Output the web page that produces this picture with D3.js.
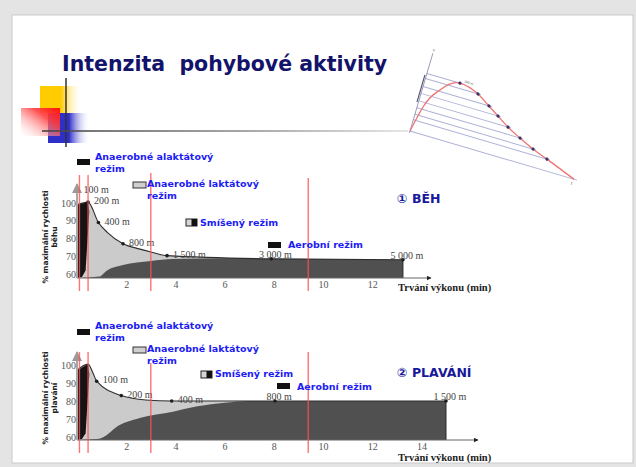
<!DOCTYPE html>
<html>
<head>
<meta charset="utf-8">
<script src="https://cdn.jsdelivr.net/npm/d3@7"></script>
<style>
  html, body { margin: 0; padding: 0; background: #fff; }
  svg { display: block; }
</style>
</head>
<body>
<div id="chart"></div>
<script>
(function () {
"use strict";

////////////////////////////////////////////////////////////////////////////////
// Data
////////////////////////////////////////////////////////////////////////////////

var title = "Intenzita  pohybové aktivity";

var regimeNames = [
  ["Anaerobné alaktátový", "režim"],
  ["Anaerobné laktátový", "režim"],
  ["Smíšený režim"],
  ["Aerobní režim"]
];

// regime borders, minutes
var regimeBounds = [0.1, 0.45, 3, 9.4];

var yTicks = [60, 70, 80, 90, 100];
var runXTicks = [2, 4, 6, 8, 10, 12];
var swimXTicks = [2, 4, 6, 8, 10, 12, 14];

// running: [min, % of max speed]
var runCurve = [[0, 99], [0.45, 100.5], [0.87, 89], [1.22, 83.6], [1.87, 77], [2.56, 74],
                [3, 72.4], [3.66, 70.3], [7.9, 68.5], [13.25, 68]];
var runAerobic = [[0, 57.7], [0.9, 58.5], [1.22, 62], [1.87, 65], [3, 67.3], [3.9, 68.4],
                  [6, 68.8], [7.9, 68.5], [13.25, 68]];
var runAlactic = [[0, 57.7], [0, 99], [0.45, 100.5], [0.5, 95], [0.35, 62], [0.2, 58.3]];
var runMarks = [
  {label: "100 m", t: 0.1, v: 100},
  {label: "200 m", t: 0.45, v: 100.5},
  {label: "400 m", t: 0.87, v: 89},
  {label: "800 m", t: 1.87, v: 77},
  {label: "1 500 m", t: 3.66, v: 70.3},
  {label: "3 000 m", t: 7.9, v: 68.5},
  {label: "5 000 m", t: 13.25, v: 68}
];

// swimming
var swimCurve = [[0, 97], [0.45, 100.5], [0.65, 95.5], [0.8, 91], [1.8, 83], [2.8, 80.5],
                 [3.85, 80], [8.05, 80], [15, 80]];
var swimAerobic = [[0, 58.3], [0.8, 58.8], [1.2, 61], [1.55, 65], [2.55, 70.5], [3.9, 74],
                   [4.9, 77], [6, 79], [7, 80], [15, 80]];
var swimAlactic = [[0, 58.3], [0, 97], [0.45, 100.5], [0.5, 95], [0.35, 62], [0.2, 58.8]];
var swimMarks = [
  {label: "100 m", t: 0.8, v: 91},
  {label: "200 m", t: 1.8, v: 83},
  {label: "400 m", t: 3.85, v: 80},
  {label: "800 m", t: 8.05, v: 80},
  {label: "1 500 m", t: 15, v: 80}
];

// small tilted sketch, top right: [along base, height]
var sketchCurve = [[0, 0], [5.7, 26.7], [17.2, 47.8], [34.4, 60], [54.8, 54.7], [68.7, 46.3],
                   [80.2, 39.2], [92.9, 31.4], [107.5, 24.3], [123.1, 17.4], [139.3, 11.7], [171, 0]];
var sketchDots = [[34.4, 60], [54.8, 54.7], [68.7, 46.3], [80.2, 39.2], [92.9, 31.4],
                  [107.5, 24.3], [123.1, 17.4], [139.3, 11.7]];

////////////////////////////////////////////////////////////////////////////////
// Slide
////////////////////////////////////////////////////////////////////////////////

var W = 636, H = 467;

var svg = d3.select("#chart").append("svg")
  .attr("width", W)
  .attr("height", H)
  .attr("viewBox", "0 0 " + W + " " + H);

var defs = svg.append("defs");

function linGrad(id, x1, y1, x2, y2, stops) {
  var g = defs.append("linearGradient").attr("id", id)
    .attr("x1", x1).attr("y1", y1).attr("x2", x2).attr("y2", y2);
  stops.forEach(function(s) {
    g.append("stop").attr("offset", s[0]).attr("stop-color", s[1]).attr("stop-opacity", s[2]);
  });
}

linGrad("g-yellow", 0, 0, 1, 0, [[0, "#ffcc00", 1], [0.5, "#ffcc00", 1], [1, "#ffffff", 0]]);
linGrad("g-blue", 0, 0, 1, 0, [[0, "#2e2ec8", 1], [0.5, "#2e2ec8", 1], [1, "#ffffff", 0]]);
linGrad("g-red", 1, 0, 0, 1, [[0, "#ff1010", 1], [0.35, "#ff4040", 0.9], [1, "#ffffff", 0.2]]);
linGrad("g-rule", 0, 0, 1, 0, [[0, "#444", 1], [0.6, "#999", 1], [1, "#e0e0e0", 1]]);

var markerDefs = [["ax-arrow-dark", "#222"], ["ax-arrow-gray", "#9a9a9a"]];
markerDefs.forEach(function(m) {
  defs.append("marker")
      .attr("id", m[0])
      .attr("viewBox", "0 -5 10 10")
      .attr("refX", 9)
      .attr("refY", 0)
      .attr("markerWidth", 5)
      .attr("markerHeight", 5)
      .attr("orient", "auto")
    .append("path")
      .attr("d", "M0,-5L10,0L0,5")
      .style("fill", m[1]);
});

svg.append("rect").attr("width", W).attr("height", H).style("fill", "#e4e4e4");
svg.append("rect")
  .attr("x", 12).attr("y", 15).attr("width", 621).attr("height", 448)
  .style("fill", "#fff")
  .style("stroke", "#c9c9c9");

// decoration squares
svg.append("rect").attr("x", 40).attr("y", 86).attr("width", 42).attr("height", 27).style("fill", "url(#g-yellow)");
svg.append("rect").attr("x", 48).attr("y", 113).attr("width", 42).attr("height", 30).style("fill", "url(#g-blue)");
svg.append("rect").attr("x", 21).attr("y", 108).attr("width", 39).attr("height", 28).style("fill", "url(#g-red)");
svg.append("line").attr("x1", 66).attr("x2", 66).attr("y1", 78).attr("y2", 147)
  .style("stroke", "#333").style("stroke-width", 1.5);
svg.append("rect").attr("x", 42).attr("y", 130.2).attr("width", 366).attr("height", 1.6)
  .style("fill", "url(#g-rule)");

svg.append("text")
  .attr("x", 62)
  .attr("y", 71)
  .style("font-family", "'DejaVu Sans', sans-serif")
  .style("font-weight", "bold")
  .style("font-size", "20.5px")
  .style("fill", "#13136b")
  .attr("xml:space", "preserve")
  .text(title);

////////////////////////////////////////////////////////////////////////////////
// Tilted sketch (top right)
////////////////////////////////////////////////////////////////////////////////

var su = d3.scaleLinear().domain([0, 171]).range([0, 171]),
    sh = d3.scaleLinear().domain([0, 81]).range([0, -81]);

var sketch = svg.append("g")
  .attr("transform", "translate(410,131) rotate(16.4)");

sketch.selectAll(".sk-line")
    .data([[0, 0]].concat(sketchDots).concat([[171, 0]]))
  .enter().append("line")
    .attr("x1", su(0))
    .attr("x2", function(d) { return su(d[0]) + 3; })
    .attr("y1", function(d) { return sh(d[1]); })
    .attr("y2", function(d) { return sh(d[1]); })
    .style("stroke", "#aeb2d6")
    .style("stroke-width", 1);

sketch.append("line")
  .attr("x1", 0).attr("x2", 0).attr("y1", sh(-2)).attr("y2", sh(81))
  .style("stroke", "#8c8caa").style("stroke-width", 0.8);
sketch.append("line")
  .attr("x1", -1.5).attr("x2", -1.5).attr("y1", sh(30)).attr("y2", sh(58))
  .style("stroke", "#555577").style("stroke-width", 1.2);

sketch.append("path")
  .datum(sketchCurve)
  .attr("d", d3.line()
    .x(function(d) { return su(d[0]); })
    .y(function(d) { return sh(d[1]); })
    .curve(d3.curveMonotoneX))
  .style("fill", "none")
  .style("stroke", "#f07272")
  .style("stroke-width", 1.3);

sketch.selectAll(".sk-dot")
    .data(sketchDots)
  .enter().append("circle")
    .attr("cx", function(d) { return su(d[0]); })
    .attr("cy", function(d) { return sh(d[1]); })
    .attr("r", 1.6)
    .style("fill", "#34346a");

sketch.append("text")
  .attr("x", su(38)).attr("y", sh(62))
  .style("font-family", "'DejaVu Sans', sans-serif").style("font-size", "3px").style("fill", "#555")
  .text("100 m");
sketch.append("text")
  .attr("x", su(169)).attr("y", sh(-6))
  .style("font-family", "'DejaVu Sans', sans-serif").style("font-size", "4px").style("fill", "#666")
  .text("t");
sketch.append("text")
  .attr("x", su(-1)).attr("y", sh(83))
  .style("font-family", "'DejaVu Sans', sans-serif").style("font-size", "4px").style("fill", "#666")
  .text("v");

////////////////////////////////////////////////////////////////////////////////
// Panels
////////////////////////////////////////////////////////////////////////////////

var serif = "'Liberation Serif', 'DejaVu Serif', serif";
var legendFont = "'DejaVu Sans', sans-serif";

function drawPanel(o) {
  var x = d3.scaleLinear().domain([0, 14]).range([77, 77 + 14 * 24.6]);
  var y = d3.scaleLinear().domain([o.base, 100]).range([o.y0, o.y0 - 75]);

  var g = svg.append("g");

  var area = d3.area()
    .x(function(d) { return x(d[0]); })
    .y0(y(o.base))
    .y1(function(d) { return y(d[1]); })
    .curve(d3.curveMonotoneX);

  var line = d3.line()
    .x(function(d) { return x(d[0]); })
    .y(function(d) { return y(d[1]); })
    .curve(d3.curveMonotoneX);

  // lactic (light) under the whole curve
  g.append("path").datum(o.curve).attr("d", area).style("fill", "#cbcbcb");
  // aerobic
  g.append("path").datum(o.aerobic).attr("d", area).style("fill", "#505050");
  // alactic
  g.append("path").datum(o.alactic)
    .attr("d", d3.line().x(function(d) { return x(d[0]); }).y(function(d) { return y(d[1]); }))
    .style("fill", "#141414");
  // right edge
  var last = o.curve[o.curve.length - 1];
  g.append("line")
    .attr("x1", x(last[0])).attr("x2", x(last[0]))
    .attr("y1", y(last[1])).attr("y2", y(o.base))
    .style("stroke", "#2a2a2a").style("stroke-width", 1);
  // speed curve
  g.append("path").datum(o.curve).attr("d", line)
    .style("fill", "none").style("stroke", "#2e2e2e").style("stroke-width", 1.1);

  // x axis
  g.append("line")
    .attr("x1", x(0)).attr("x2", o.arrowEnd)
    .attr("y1", y(o.base)).attr("y2", y(o.base))
    .attr("marker-end", "url(#ax-arrow-dark)")
    .style("stroke", "#666").style("stroke-width", 1);

  var xAxis = g.append("g")
    .attr("transform", "translate(0," + y(o.base) + ")")
    .call(d3.axisBottom(x).tickValues(o.xTicks).tickSize(0).tickPadding(o.tickPad));
  xAxis.select(".domain").remove();
  xAxis.selectAll("text")
    .style("font-family", serif).style("font-size", "10px").style("fill", "#555");

  // y axis
  g.append("line")
    .attr("x1", x(0)).attr("x2", x(0))
    .attr("y1", y(o.base)).attr("y2", o.yArrowTop)
    .attr("marker-end", "url(#ax-arrow-gray)")
    .style("stroke", "#a8a8a8").style("stroke-width", 2);

  var yAxis = g.append("g")
    .attr("transform", "translate(" + (x(0) - 1) + ",0)")
    .call(d3.axisLeft(y).tickValues(yTicks).tickSize(0).tickPadding(0));
  yAxis.select(".domain").remove();
  yAxis.selectAll("text")
    .style("font-family", serif).style("font-size", "10px").style("fill", "#555");

  // y title
  var yt = g.append("text")
    .attr("transform", "translate(48," + o.yTitleY + ") rotate(-90)")
    .style("font-family", legendFont).style("font-weight", "bold")
    .style("font-size", "7.5px").style("fill", "#222")
    .style("text-anchor", "middle");
  yt.append("tspan").attr("x", 0).attr("y", 0).text("% maximální rychlosti");
  yt.append("tspan").attr("x", 0).attr("y", 9).text(o.yTitle2);

  // distance markers
  g.selectAll(".mark-dot")
      .data(o.marks.filter(function(d, i) { return o.labelSide[i] !== "up"; }))
    .enter().append("circle")
      .attr("cx", function(d) { return x(d.t); })
      .attr("cy", function(d) { return y(d.v); })
      .attr("r", 1.8)
      .style("fill", "#1e1e1e");

  g.selectAll(".mark-label")
      .data(o.marks)
    .enter().append("text")
      .attr("x", function(d, i) {
        var s = o.labelSide[i];
        return x(d.t) + (s === "up" ? 4 : s === "top" ? 4 : 6);
      })
      .attr("y", function(d, i) {
        var s = o.labelSide[i];
        return y(d.v) + (s === "up" ? -10 : s === "top" ? -1 : 2);
      })
      .style("text-anchor", function(d, i) { return o.labelSide[i] === "top" ? "middle" : "start"; })
      .style("font-family", serif).style("font-size", "10px").style("fill", "#444")
      .text(function(d) { return d.label; });

  // regime borders
  g.selectAll(".bound")
      .data(regimeBounds)
    .enter().append("line")
      .attr("x1", function(d) { return x(d); })
      .attr("x2", function(d) { return x(d); })
      .attr("y1", function(d, i) { return o.boundTop[i]; })
      .attr("y2", o.boundBottom)
      .style("stroke", "#ff5050")
      .style("stroke-opacity", 0.8)
      .style("stroke-width", 1.4);

  // legend
  var fills = ["#111", "#cfcfcf", null, "#111"];
  regimeNames.forEach(function(lines, i) {
    var p = o.legend[i];
    if (i === 2) {
      g.append("rect").attr("x", p[0]).attr("y", p[1]).attr("width", 11).attr("height", 7)
        .style("fill", "#d6d6d6").style("stroke", "#222").style("stroke-width", 1);
      g.append("rect").attr("x", p[0] + 5.5).attr("y", p[1]).attr("width", 5.5).attr("height", 7)
        .style("fill", "#111");
    } else {
      g.append("rect").attr("x", p[0]).attr("y", p[1]).attr("width", 13).attr("height", 6)
        .style("fill", fills[i])
        .style("stroke", i === 1 ? "#333" : "none").style("stroke-width", 1);
    }
    var t = g.append("text")
      .style("font-family", legendFont).style("font-weight", "bold")
      .style("font-size", "9.5px").style("fill", "#1c1cf5");
    lines.forEach(function(s, k) {
      t.append("tspan").attr("x", p[2]).attr("y", p[3] + k * 11.5).text(s);
    });
  });

  // sport heading
  g.append("text")
    .attr("x", 397).attr("y", o.headY)
    .style("font-family", legendFont).style("font-weight", "bold")
    .style("font-size", "12.5px").style("fill", "#18189a")
    .text(o.head);

  g.append("text")
    .attr("x", 398).attr("y", o.xTitleY)
    .style("font-family", serif).style("font-weight", "bold")
    .style("font-size", "10.5px").style("fill", "#222")
    .text("Trvání výkonu (min)");
}

drawPanel({
  base: 57.7, y0: 278,
  curve: runCurve, aerobic: runAerobic, alactic: runAlactic,
  marks: runMarks, labelSide: ["up", "right", "right", "right", "right", "top", "top"],
  xTicks: runXTicks, tickPad: 3, arrowEnd: 431, yArrowTop: 184,
  yTitleY: 237, yTitle2: "běhu",
  boundTop: [175, 175, 173, 178], boundBottom: 291,
  legend: [[77, 159, 95, 160], [133, 182, 147, 187], [186, 219, 200, 226], [268, 242, 288, 248]],
  head: "\u2460 BĚH", headY: 203, xTitleY: 291
});

drawPanel({
  base: 58.3, y0: 440,
  curve: swimCurve, aerobic: swimAerobic, alactic: swimAlactic,
  marks: swimMarks, labelSide: ["right", "right", "right", "top", "top"],
  xTicks: swimXTicks, tickPad: 2.5, arrowEnd: 478, yArrowTop: 352,
  yTitleY: 398, yTitle2: "plavání",
  boundTop: [352, 352, 363, 352], boundBottom: 453,
  legend: [[77, 329, 95, 329], [133, 347, 147, 352], [201, 371, 215, 377], [277, 383, 297, 390]],
  head: "\u2461 PLAVÁNÍ", headY: 377, xTitleY: 461
});

})();
</script>
</body>
</html>
